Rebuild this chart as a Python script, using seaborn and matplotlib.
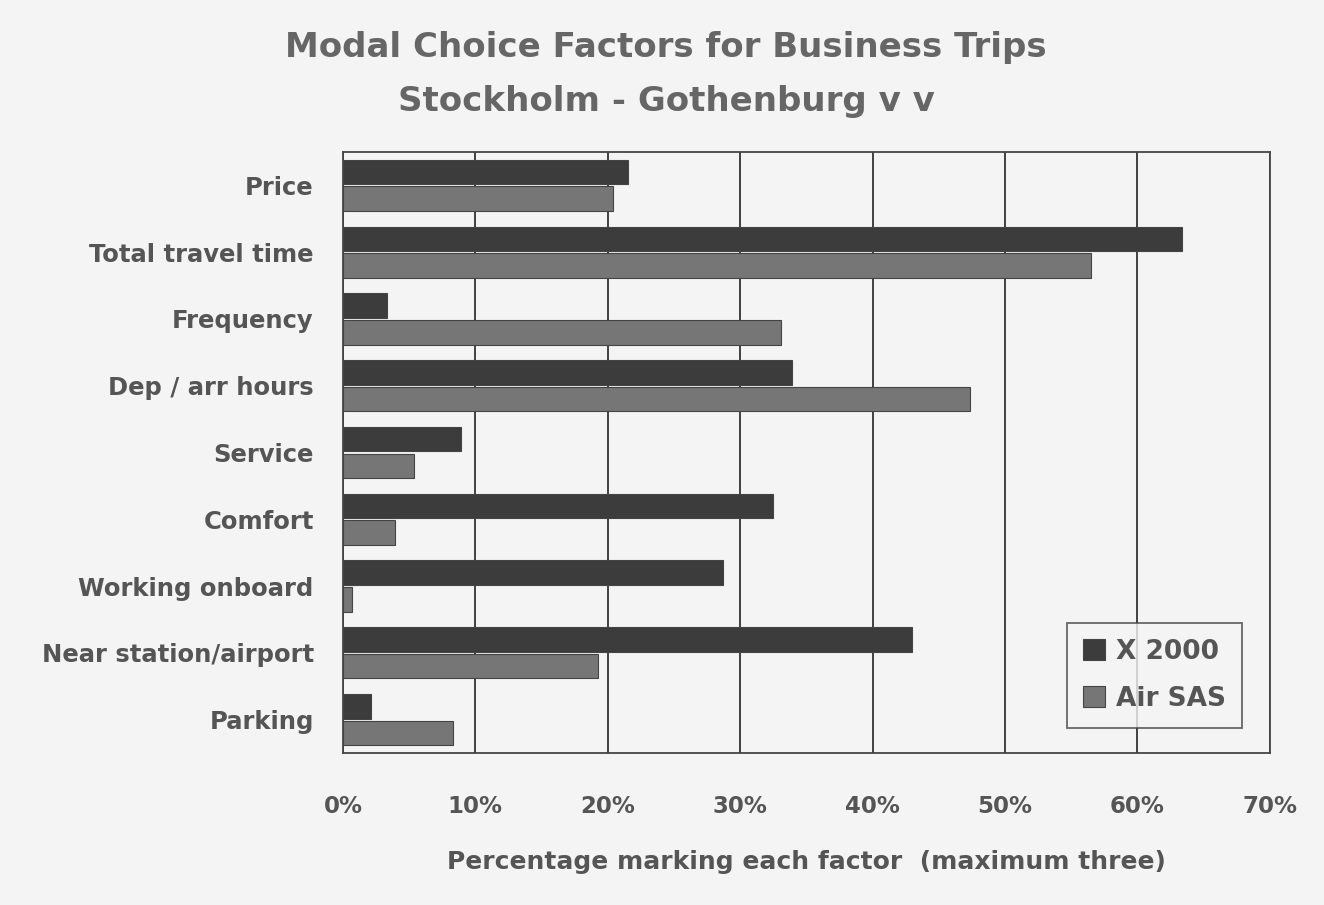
import matplotlib
matplotlib.use("Agg")
import matplotlib.pyplot as plt
import seaborn as sns
import pandas as pd
from matplotlib.ticker import FuncFormatter

categories = ["Price", "Total travel time", "Frequency", "Dep / arr hours", "Service",
              "Comfort", "Working onboard", "Near station/airport", "Parking"]
x2000 = [21.5, 63.4, 3.3, 33.9, 8.9, 32.5, 28.7, 43.0, 2.1]
air_sas = [20.4, 56.5, 33.1, 47.4, 5.4, 3.9, 0.7, 19.3, 8.3]
series = ["X 2000", "Air SAS"]
xticks = [0, 10, 20, 30, 40, 50, 60, 70]

df = pd.DataFrame({
    "factor": categories * 2,
    "value": x2000 + air_sas,
    "series": [series[0]] * len(categories) + [series[1]] * len(categories),
})

sns.set_theme(style="white")
plt.rcParams["font.family"] = ["DejaVu Sans"]
txt = "#555555"
bg = "#f4f4f4"

fig = plt.figure(figsize=(13.24, 9.05), dpi=100, facecolor=bg)
ax = fig.add_axes([0.259, 0.168, 0.7, 0.664])
ax.set_facecolor(bg)

sns.barplot(data=df, y="factor", x="value", hue="series", orient="h",
            palette=["#3c3c3c", "#767676"], width=0.8, gap=0.08,
            edgecolor="#444444", linewidth=0.8, ax=ax, saturation=1)

ax.set_xlim(0, 70)
ax.set_xticks(xticks)
ax.xaxis.set_major_formatter(FuncFormatter(lambda v, p: f"{int(v)}%"))
ax.grid(axis="x", color="#333333", linewidth=1.3)
ax.set_axisbelow(True)
for s in ax.spines.values():
    s.set_color("#444444")
    s.set_linewidth(1.3)
ax.tick_params(axis="x", direction="out", length=12, width=1.3, color="#444444",
               labelsize=16.5, labelcolor=txt, pad=18)
ax.tick_params(axis="y", length=0, labelsize=17.5, labelcolor=txt, pad=21)
for lbl in ax.get_xticklabels() + ax.get_yticklabels():
    lbl.set_fontweight("bold")
ax.set_ylabel("")
ax.set_xlabel("Percentage marking each factor  (maximum three)", fontsize=18,
              fontweight="bold", color=txt, labelpad=23)

leg = ax.legend(loc="lower right", bbox_to_anchor=(0.984, 0.02), frameon=True,
                fancybox=False, edgecolor="#444444", facecolor=bg, fontsize=19,
                handlelength=0.85, handleheight=0.85, handletextpad=0.4,
                borderpad=0.6, labelspacing=0.8)
leg.get_frame().set_linewidth(1.3)
for t in leg.get_texts():
    t.set_color(txt)
    t.set_fontweight("bold")

fig.text(0.503, 0.948, "Modal Choice Factors for Business Trips", ha="center", va="center",
         fontsize=24.5, fontweight="bold", color="#666666")
fig.text(0.503, 0.888, "Stockholm - Gothenburg v v", ha="center", va="center",
         fontsize=24.5, fontweight="bold", color="#666666")

fig.savefig("out.png", dpi=100, facecolor=bg)
